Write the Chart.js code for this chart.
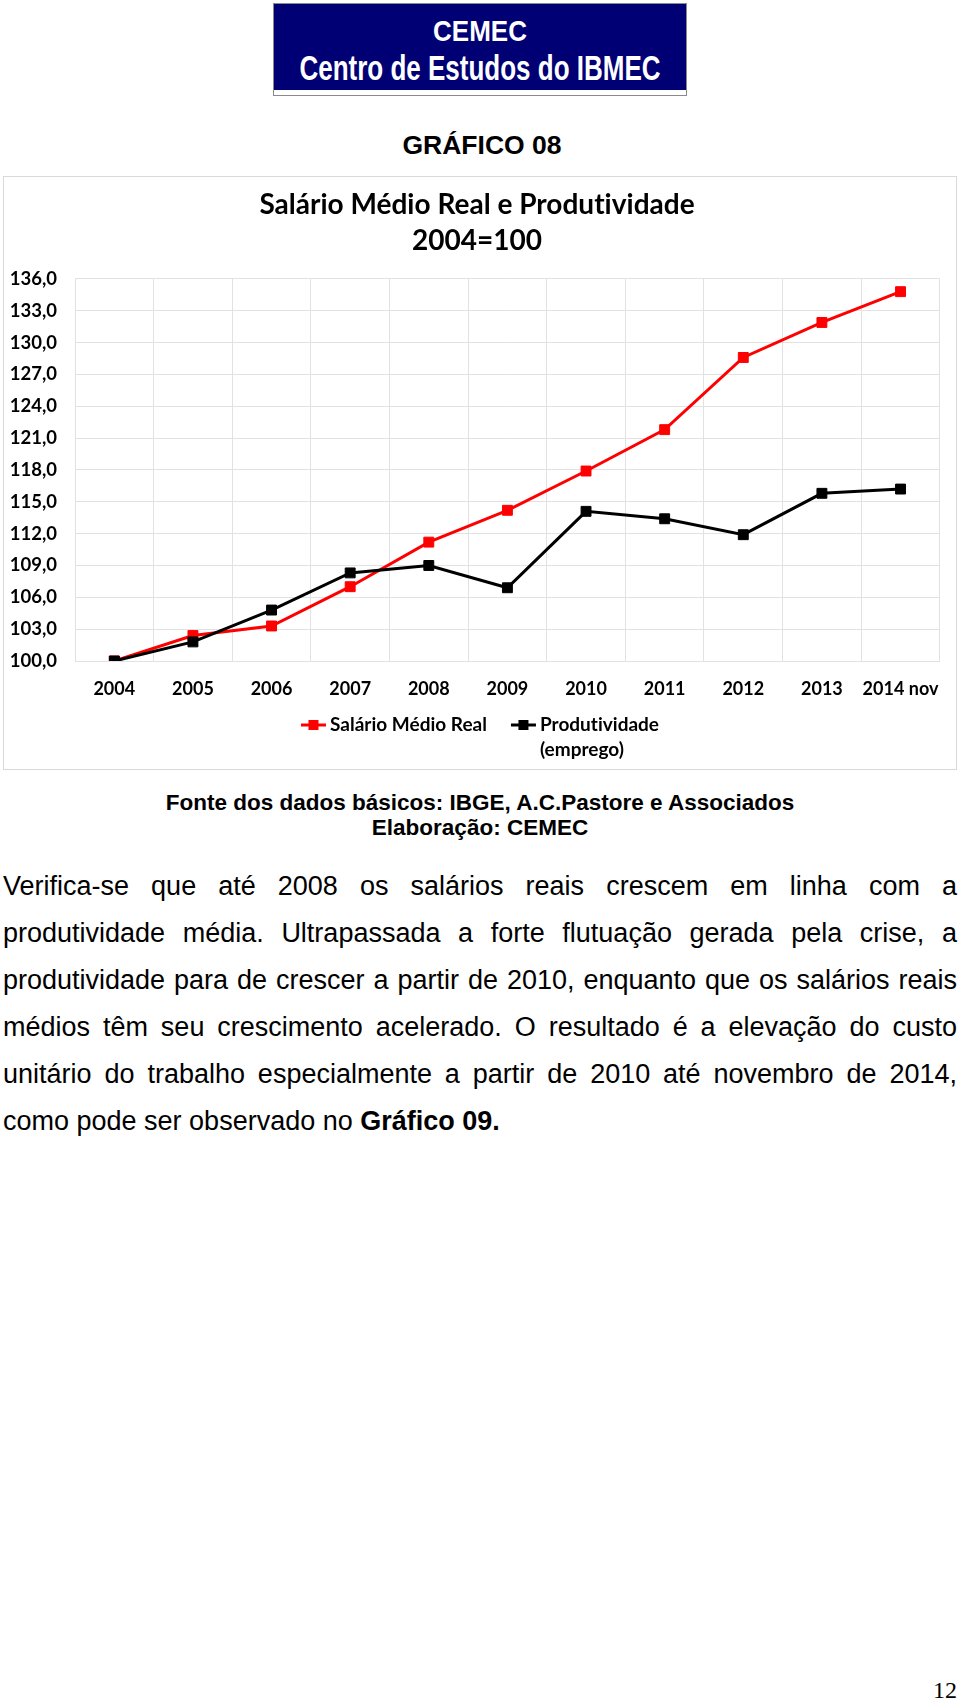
<!DOCTYPE html>
<html lang="pt">
<head>
<meta charset="utf-8">
<title>Gráfico 08</title>
<script src="https://cdn.jsdelivr.net/npm/chart.js@4.4.1/dist/chart.umd.min.js"></script>
<style>
  html, body { margin: 0; padding: 0; background: #fff; }
  body { width: 960px; height: 1704px; position: relative; font-family: "Liberation Sans", Arial, sans-serif; color: #000; }
  .banner { position: absolute; left: 273px; top: 3px; width: 414px; height: 93px; border: 1px solid #8a8a8a; box-sizing: border-box; background: #fff; }
  .banner .navy { position: absolute; left: 0; top: 0; right: 0; height: 86px; background: #000074; }
  .banner .l1, .banner .l2 { position: absolute; left: 0; right: 0; text-align: center; color: #fff; font-weight: bold; font-size: 26px; line-height: 30px; }
  .banner .l1 { top: 12px; transform: scaleY(1.1); }
  .banner .l2 { top: 49px; transform: scaleY(1.38); }
  .gtitle { position: absolute; left: 0; width: 964px; top: 130px; text-align: center; font-weight: bold; font-size: 26.5px; line-height: 30px; }
  .frame { position: absolute; left: 3px; top: 176px; width: 954px; height: 594px; border: 1px solid #d9d9d9; box-sizing: border-box; }
  .frame .wrap { position: relative; width: 952px; height: 592px; }
  .fonte { position: absolute; left: 0; width: 960px; top: 790px; text-align: center; font-weight: bold; font-size: 22.5px; line-height: 25px; }
  .para { position: absolute; left: 3px; width: 954px; top: 863px; font-size: 27px; line-height: 47px; }
  .para div { text-align: justify; text-align-last: justify; white-space: nowrap; }
  .para div.last { text-align: left; text-align-last: left; }
  .pagenum { position: absolute; right: 3px; top: 1676px; font-family: "Liberation Serif", "Times New Roman", serif; font-size: 24px; line-height: 28px; }
</style>
</head>
<body>
<div class="banner">
  <div class="navy"></div>
  <div class="l1">CEMEC</div>
  <div class="l2">Centro de Estudos do IBMEC</div>
</div>

<div class="gtitle">GRÁFICO 08</div>

<div class="frame"><div class="wrap"><canvas id="grafico"></canvas></div></div>

<div class="fonte">Fonte dos dados básicos: IBGE, A.C.Pastore e Associados<br>Elaboração: CEMEC</div>

<div class="para">
  <div>Verifica-se que até 2008 os salários reais crescem em linha com a</div>
  <div>produtividade média. Ultrapassada a forte flutuação gerada pela crise, a</div>
  <div>produtividade para de crescer a partir de 2010, enquanto que os salários reais</div>
  <div>médios têm seu crescimento acelerado. O resultado é a elevação do custo</div>
  <div>unitário do trabalho especialmente a partir de 2010 até novembro de 2014,</div>
  <div class="last">como pode ser observado no <b>Gráfico 09.</b></div>
</div>

<div class="pagenum">12</div>

<script>
// dados (2004 = 100)
var anos = ['2004', '2005', '2006', '2007', '2008', '2009', '2010', '2011', '2012', '2013', '2014 nov'];
var salarioMedio = [100.0, 102.4, 103.3, 107.0, 111.2, 114.2, 117.9, 121.8, 128.6, 131.9, 134.8];
var produtividade = [100.0, 101.8, 104.8, 108.3, 109.0, 106.9, 114.1, 113.4, 111.9, 115.8, 116.2];
var tituloGrafico = ['Salário Médio Real e Produtividade', '2004=100'];
var nomesSeries = ['Salário Médio Real', 'Produtividade\n(emprego)'];

var fonte = 'Lato';
var grade = '#e2e2e2';

// sem ligaduras (o "ti" do Lato)
var semLigadura = {
    id: 'semLigadura',
    beforeDraw: function(chart) {
        chart.ctx.letterSpacing = '0.01px';
        chart.ctx.textRendering = 'optimizeSpeed';
    }
};

// legenda desenhada embaixo, com rótulos de duas linhas
var legendaBaixo = {
    id: 'legendaBaixo',
    afterDraw: function(chart) {
        var ctx = chart.ctx;
        var area = chart.chartArea;
        var y = area.bottom + 64;
        var passo = 25;
        var linhaLen = 25;
        var gap = 4;
        var espaco = 24;
        ctx.save();
        ctx.font = 'bold 19px ' + fonte;
        ctx.textBaseline = 'middle';
        ctx.textAlign = 'left';
        var itens = chart.data.datasets.map(function(ds) {
            var linhas = ds.label.split('\n');
            var w = 0;
            linhas.forEach(function(t) { w = Math.max(w, ctx.measureText(t).width); });
            return { linhas: linhas, w: w, cor: ds.borderColor };
        });
        var total = 0;
        itens.forEach(function(it, i) { total += linhaLen + gap + it.w + (i ? espaco : 0); });
        var x = chart.width / 2 - total / 2;
        itens.forEach(function(it) {
            ctx.strokeStyle = it.cor;
            ctx.fillStyle = it.cor;
            ctx.lineWidth = 3;
            ctx.beginPath();
            ctx.moveTo(x, y);
            ctx.lineTo(x + linhaLen, y);
            ctx.stroke();
            ctx.fillRect(x + linhaLen / 2 - 5, y - 5, 10, 10);
            ctx.fillStyle = '#000';
            it.linhas.forEach(function(t, k) {
                ctx.fillText(t, x + linhaLen + gap, y + k * passo);
            });
            x += linhaLen + gap + it.w + espaco;
        });
        ctx.restore();
    }
};

new Chart(document.getElementById('grafico').getContext('2d'), {
    type: 'line',
    data: {
        labels: anos,
        datasets: [
            {
                label: nomesSeries[0],
                data: salarioMedio,
                borderColor: '#ff0000',
                backgroundColor: '#ff0000',
                borderWidth: 3,
                pointStyle: 'rect',
                pointRadius: 7,
                pointBorderWidth: 1,
                tension: 0,
                order: 1
            },
            {
                label: nomesSeries[1],
                data: produtividade,
                borderColor: '#000000',
                backgroundColor: '#000000',
                borderWidth: 3,
                pointStyle: 'rect',
                pointRadius: 7,
                pointBorderWidth: 1,
                tension: 0,
                order: 0
            }
        ]
    },
    options: {
        responsive: true,
        maintainAspectRatio: false,
        animation: false,
        layout: {
            padding: { left: 6, right: 12, top: 0, bottom: 71 }
        },
        scales: {
            x: {
                offset: true,
                grid: { color: grade, lineWidth: 1, drawTicks: false, offset: true },
                border: { color: grade },
                ticks: {
                    color: '#000',
                    padding: 17,
                    maxRotation: 0,
                    autoSkip: false,
                    font: { family: fonte, size: 18, weight: 'bold' }
                },
                afterFit: function(scale) { scale.height = 37; }
            },
            y: {
                min: 100,
                max: 136,
                grid: { color: grade, lineWidth: 1, drawTicks: false },
                border: { color: grade },
                ticks: {
                    stepSize: 3,
                    color: '#000',
                    padding: 18,
                    font: { family: fonte, size: 18.5, weight: 'bold' },
                    callback: function(v) { return v.toFixed(1).replace('.', ','); }
                },
                afterFit: function(scale) { scale.width = 65; }
            }
        },
        plugins: {
            legend: { display: false },
            tooltip: { enabled: false },
            title: {
                display: true,
                text: tituloGrafico,
                color: '#000',
                font: { family: fonte, size: 28, weight: 'bold', lineHeight: 1.32 },
                padding: { top: 9, bottom: 19 }
            }
        }
    },
    plugins: [semLigadura, legendaBaixo]
});
</script>
</body>
</html>
